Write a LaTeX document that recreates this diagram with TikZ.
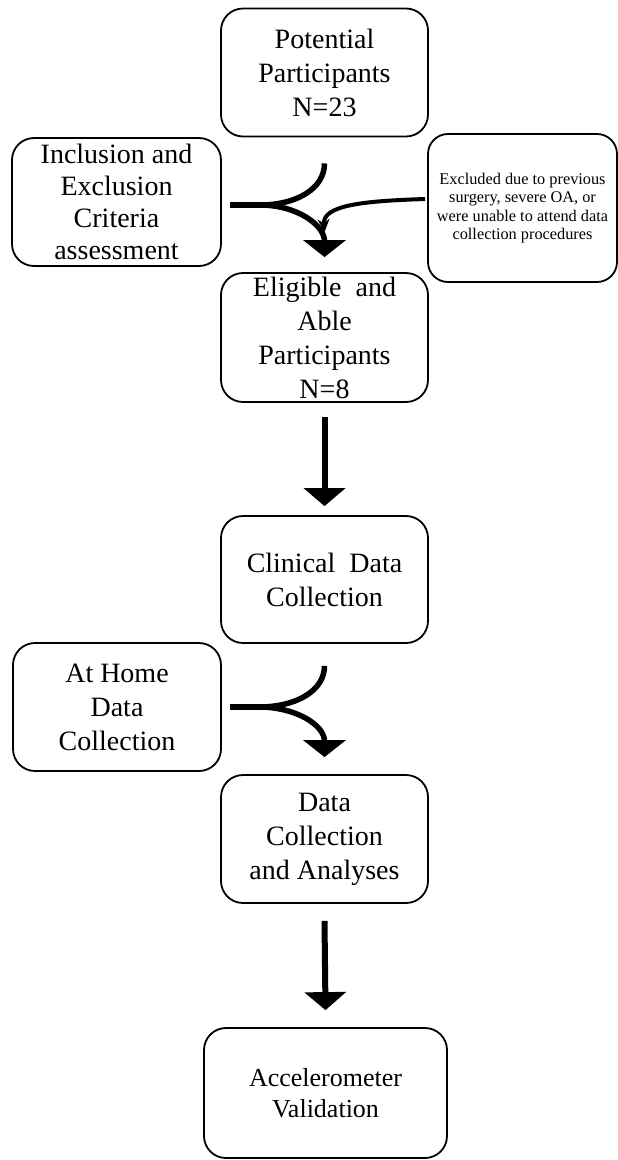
\documentclass[tikz,border=0pt]{standalone}
\usepackage{fontspec}
\setmainfont{Liberation Serif}
\usetikzlibrary{arrows.meta}

\begin{document}
\begin{tikzpicture}[x=1pt, y=-1pt,
    box/.style={draw=black, line width=1.8pt, rounded corners=22pt, align=center, inner sep=0pt,
        minimum width=207pt, minimum height=128pt, font=\fontsize{28}{34}\selectfont},
    fork/.style={line width=5.5pt},
    forktip/.style={-{Triangle[width=42pt,length=17pt]}},
    flow/.style={line width=6pt, -{Triangle[width=41pt,length=18pt]}}]
    \useasboundingbox (0, 0) rectangle (618, 1160);

    \node[box] (pot) at (324.5, 72.5) {Potential\\Participants\\N=23};
    \node[box, minimum width=209pt, font=\fontsize{28}{32}\selectfont] (incl) at (116.5, 202) {Inclusion and\\Exclusion\\Criteria\\assessment};
    \node[box, minimum width=189pt, minimum height=148pt, rounded corners=20pt, font=\fontsize{16.3}{18.4}\selectfont] (excl) at (522.5, 208) {Excluded due to previous\\surgery, severe OA, or\\were unable to attend data\\collection procedures};
    \node[box, minimum height=129pt] (elig) at (324.5, 337.5) {Eligible~ and\\Able\\Participants\\N=8};
    \node[box, minimum height=127pt] (clin) at (324.5, 579.5) {Clinical~ Data\\Collection};
    \node[box, minimum width=208pt] (home) at (117, 707) {At Home\\Data\\Collection};
    \node[box] (data) at (324.5, 839) {Data\\Collection\\and Analyses};
    \node[box, minimum width=243pt, minimum height=130pt, font=\fontsize{26}{31}\selectfont] (acc) at (325.5, 1093) {Accelerometer\\Validation};

    \coordinate (top1) at ([yshift=-26pt]pot.south);
    \coordinate (join1) at ([xshift=38pt, yshift=-3pt]incl.east);
    \draw[fork] ([xshift=8pt, yshift=-3pt]incl.east) -- (join1);
    \draw[fork] (join1) .. controls +(37,0) and +(0,25) .. (top1);
    \draw[fork, forktip] (join1) .. controls +(37,0) and +(0,-32) .. ([yshift=15pt]elig.north);
    \draw[line width=4pt, -{Stealth[width=12pt,length=13pt]}] ([xshift=-2pt,yshift=9pt]excl.west) .. controls +(-62,2) and +(-2,-27) .. ([yshift=40pt]elig.north);

    \draw[flow] ([yshift=-14pt]elig.south) -- ([yshift=9pt]clin.north);

    \coordinate (top2) at ([yshift=-22pt]clin.south);
    \coordinate (join2) at ([xshift=37pt]home.east);
    \draw[fork] ([xshift=8pt]home.east) -- (join2);
    \draw[fork] (join2) .. controls +(37,0) and +(0,25) .. (top2);
    \draw[fork, forktip] (join2) .. controls +(37,0) and +(0,-32) .. ([yshift=17pt]data.north);

    \draw[flow] ([yshift=-17pt]data.south) -- ([yshift=17pt]acc.north);
\end{tikzpicture}
\end{document}
